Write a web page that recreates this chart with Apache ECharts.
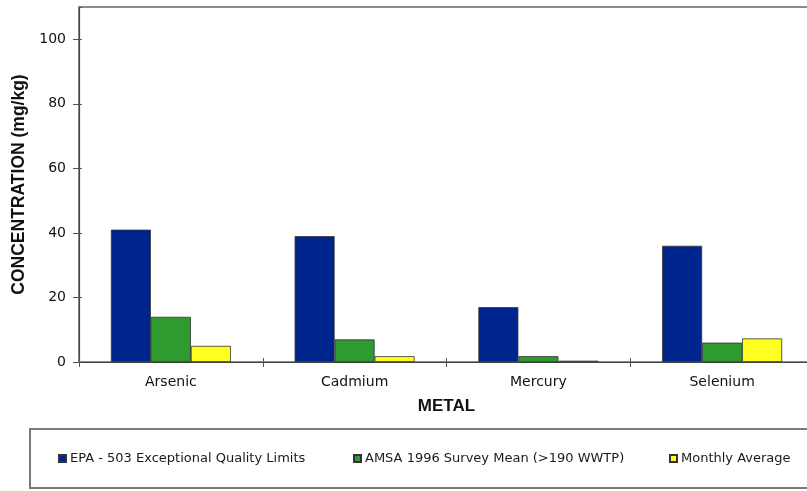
<!DOCTYPE html>
<html>
<head>
<meta charset="utf-8">
<script src="https://cdn.jsdelivr.net/npm/echarts@6/dist/echarts.min.js"></script>
<style>
html,body{margin:0;padding:0;background:#fff;}
#chart{width:807px;height:491px;}
</style>
</head>
<body>
<div id="chart"></div>
<script>
var categories = ['Arsenic', 'Cadmium', 'Mercury', 'Selenium'];
var seriesNames = ['EPA - 503 Exceptional Quality Limits', 'AMSA 1996 Survey Mean (>190 WWTP)', 'Monthly Average'];
var epaLimits = [41, 39, 17, 36];
var amsaMean = [14, 7, 1.8, 6];
var monthlyAvg = [5, 1.8, 0.4, 7.3];
var yTicks = [0, 20, 40, 60, 80, 100];

var colors = ['#00248E', '#2F9A2F', '#FFFF1F'];
var valueSets = [epaLimits, amsaMean, monthlyAvg];

var chart = echarts.init(document.getElementById('chart'), null, {renderer: 'canvas'});

var series = valueSets.map(function (vals, i) {
  return {
    name: seriesNames[i],
    type: 'bar',
    xAxisIndex: 0,
    yAxisIndex: 0,
    data: vals,
    barWidth: 40,
    barGap: '0%',
    itemStyle: {color: colors[i], borderColor: '#333', borderWidth: 0.8},
    emphasis: {disabled: true}
  };
});

var legendLefts = [58, 353, 669];
var legends = seriesNames.map(function (n, i) {
  return {
    data: [n],
    left: legendLefts[i],
    top: 452,
    padding: 0,
    icon: 'rect',
    itemWidth: 7,
    itemHeight: 7,
    itemGap: 4,
    selectedMode: false,
    textStyle: {fontFamily: 'DejaVu Sans', fontSize: 13, color: '#1a1a1a', padding: [0, 0, 0, -1]}
  };
});

var option = {
  animation: false,
  backgroundColor: '#fff',
  grid: {left: 79, top: 7, width: 735, height: 355, show: true, borderColor: '#666', borderWidth: 1.5,
         containLabel: false, outerBoundsMode: 'none'},
  legend: legends,
  graphic: [{
    type: 'rect',
    shape: {x: 30, y: 429, width: 800, height: 59},
    style: {fill: 'none', stroke: '#7a7a7a', lineWidth: 2}
  }],
  xAxis: [{
    type: 'category',
    data: categories,
    position: 'bottom',
    boundaryGap: true,
    name: 'METAL',
    nameLocation: 'middle',
    nameGap: 36,
    nameTextStyle: {fontFamily: 'Liberation Sans', fontWeight: 'bold', fontSize: 17, color: '#111'},
    axisLine: {show: true, lineStyle: {color: '#444', width: 1.2}},
    axisTick: {show: true, length: 5, lineStyle: {color: '#555'}},
    axisLabel: {fontFamily: 'DejaVu Sans', fontSize: 14, color: '#111', margin: 13}
  }, {
    type: 'category',
    data: categories,
    position: 'bottom',
    boundaryGap: true,
    axisLine: {show: false},
    axisTick: {show: true, inside: true, length: 4, lineStyle: {color: '#555'}},
    axisLabel: {show: false}
  }],
  yAxis: [{
    type: 'value',
    min: 0,
    max: 110,
    interval: 20,
    name: 'CONCENTRATION (mg/kg)',
    nameLocation: 'middle',
    nameGap: 50,
    nameRotate: 90,
    nameTextStyle: {fontFamily: 'Liberation Sans', fontWeight: 'bold', fontSize: 17.5, color: '#111'},
    axisLine: {show: true, lineStyle: {color: '#444', width: 1.2}},
    axisTick: {show: true, length: 6, lineStyle: {color: '#555'}},
    axisLabel: {
      fontFamily: 'DejaVu Sans', fontSize: 14, color: '#111', margin: 13, showMaxLabel: false,
      formatter: function (v) { return yTicks.indexOf(v) >= 0 ? String(v) : ''; }
    },
    splitLine: {show: false}
  }, {
    type: 'value',
    min: 0,
    max: 110,
    interval: 20,
    position: 'left',
    axisLine: {show: false},
    axisTick: {show: true, inside: true, length: 3, lineStyle: {color: '#555'}},
    axisLabel: {show: false},
    splitLine: {show: false}
  }],
  series: series
};

chart.setOption(option);
</script>
</body>
</html>
